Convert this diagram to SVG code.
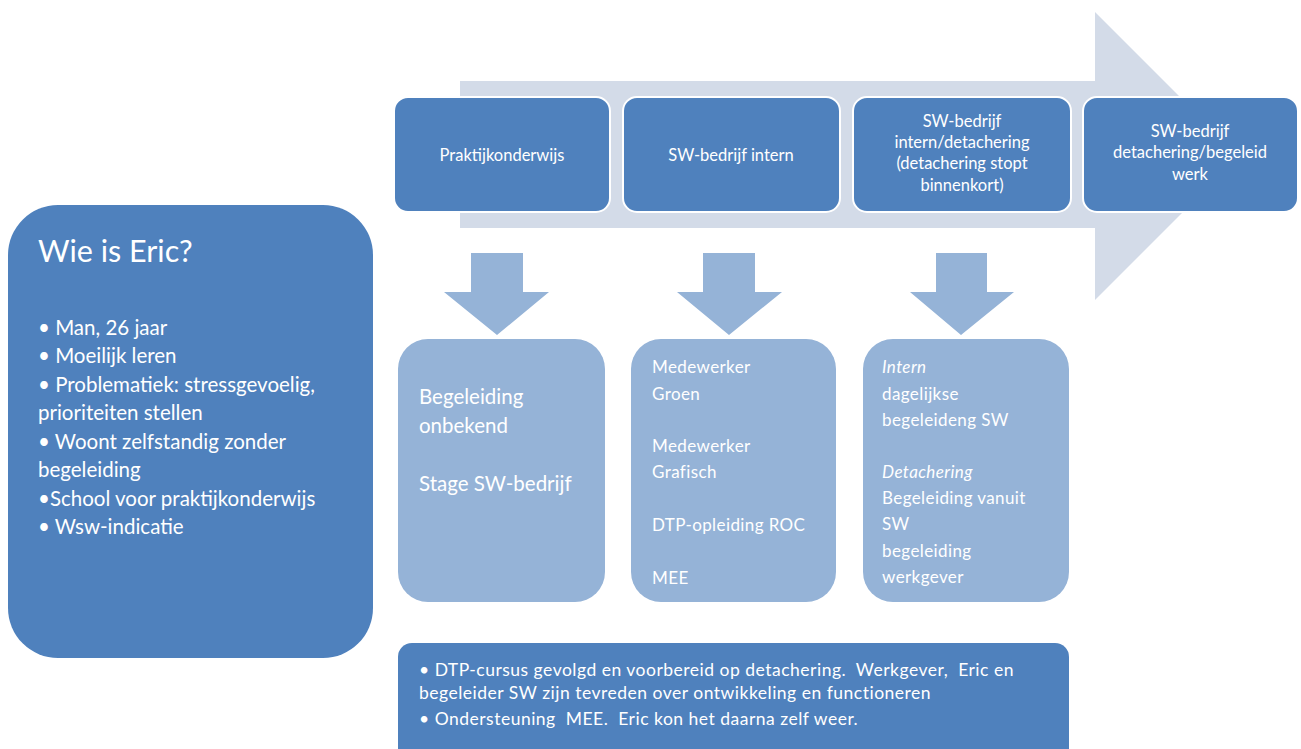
<svg xmlns="http://www.w3.org/2000/svg" width="1301" height="749" viewBox="0 0 1301 749">
<style>
.dark{fill:#4f81bd}
.top{fill:#4f81bd;stroke:#ffffff;stroke-width:2}
.light{fill:#95b3d7}
.down{fill:#95b3d7}
text{font-family:Lato,"Liberation Sans",sans-serif;fill:#ffffff}
.t{font-size:16.5px}
.m{font-size:17px;letter-spacing:0.4px}
.c{text-anchor:middle}
.i{font-style:italic}
</style>
<rect width="1301" height="749" fill="#ffffff"/>
<g id="timeline-arrow">
<polygon points="460,81 1095,81 1095,12 1239,156 1095,300 1095,228 460,228" fill="#d3dbe8"/>
</g>
<g id="connectors">
<polygon class="down" points="471,253 523,253 523,292 549,292 497,335 444,292 471,292"/>
<polygon class="down" points="703,253 755,253 755,292 782,292 729,335 677,292 703,292"/>
<polygon class="down" points="936,253 987,253 987,292 1014,292 961,335 910,292 936,292"/>
</g>
<g id="praktijkonderwijs">
<rect class="top" x="394" y="97" width="216" height="115" rx="14"/>
<text class="t c" x="502" y="161">Praktijkonderwijs</text>
</g>
<g id="sw-intern">
<rect class="top" x="623" y="97" width="217" height="115" rx="14"/>
<text class="t c" x="731" y="161">SW-bedrijf intern</text>
</g>
<g id="sw-intern-detachering">
<rect class="top" x="853" y="97" width="218" height="115" rx="14"/>
<text class="t c" x="962" y="127">SW-bedrijf</text>
<text class="t c" x="962" y="148">intern/detachering</text>
<text class="t c" x="962" y="169">(detachering stopt</text>
<text class="t c" x="962" y="191">binnenkort)</text>
</g>
<g id="sw-detachering-begeleid">
<rect class="top" x="1083" y="97" width="215" height="115" rx="14"/>
<text class="t c" x="1190" y="137">SW-bedrijf</text>
<text class="t c" x="1190" y="158">detachering/begeleid</text>
<text class="t c" x="1190" y="180">werk</text>
</g>
<g id="wie-is-eric">
<rect class="dark" x="8" y="205" width="365" height="453" rx="50"/>
<text x="38" y="262" font-size="30.5">Wie is Eric?</text>
<g font-size="20.5">
<text x="38" y="335">• Man, 26 jaar</text>
<text x="38" y="363">• Moeilijk leren</text>
<text x="38" y="392">• Problematiek: stressgevoelig,</text>
<text x="38" y="420">prioriteiten stellen</text>
<text x="38" y="449">• Woont zelfstandig zonder</text>
<text x="38" y="477">begeleiding</text>
<text x="38" y="506">•School voor praktijkonderwijs</text>
<text x="38" y="534">• Wsw-indicatie</text>
</g>
</g>
<g id="begeleiding-praktijk">
<rect class="light" x="398" y="339" width="207" height="263" rx="30"/>
<g font-size="20.5">
<text x="419" y="404">Begeleiding</text>
<text x="419" y="433">onbekend</text>
<text x="419" y="491">Stage SW-bedrijf</text>
</g>
</g>
<g id="begeleiding-intern">
<rect class="light" x="631" y="339" width="205" height="263" rx="30"/>
<g class="m">
<text x="652" y="373">Medewerker</text>
<text x="652" y="400">Groen</text>
<text x="652" y="452">Medewerker</text>
<text x="652" y="478">Grafisch</text>
<text x="652" y="531">DTP-opleiding ROC</text>
<text x="652" y="584">MEE</text>
</g>
</g>
<g id="begeleiding-detachering">
<rect class="light" x="863" y="339" width="206" height="263" rx="30"/>
<g class="m">
<text class="i" x="882" y="373">Intern</text>
<text x="882" y="400">dagelijkse</text>
<text x="882" y="426">begeleideng SW</text>
<text class="i" x="882" y="478">Detachering</text>
<text x="882" y="504">Begeleiding vanuit</text>
<text x="882" y="530">SW</text>
<text x="882" y="557">begeleiding</text>
<text x="882" y="583">werkgever</text>
</g>
</g>
<g id="resultaat">
<rect class="dark" x="398" y="643" width="671" height="130" rx="14"/>
<g font-size="17.5" letter-spacing="0.5">
<text x="419" y="676" xml:space="preserve">• DTP-cursus gevolgd en voorbereid op detachering.  Werkgever,  Eric en</text>
<text x="419" y="699">begeleider SW zijn tevreden over ontwikkeling en functioneren</text>
<text x="419" y="725" xml:space="preserve">• Ondersteuning  MEE.  Eric kon het daarna zelf weer.</text>
</g>
</g>
</svg>
